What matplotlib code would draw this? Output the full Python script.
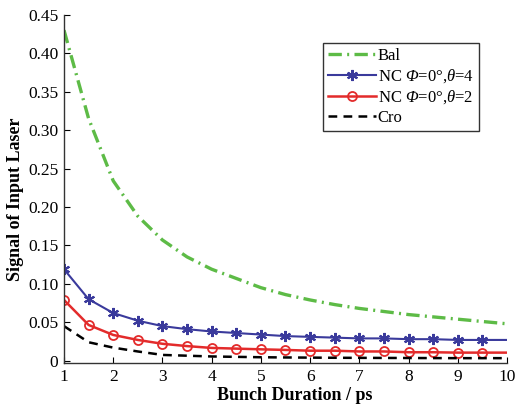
import matplotlib
matplotlib.use("Agg")
import matplotlib.pyplot as plt

plt.rcParams['font.family'] = ['Liberation Serif', 'DejaVu Serif']
plt.rcParams['mathtext.fontset'] = 'custom'
plt.rcParams['mathtext.rm'] = 'Liberation Serif'
plt.rcParams['mathtext.it'] = 'Liberation Serif:italic'
plt.rcParams['mathtext.cal'] = 'Liberation Serif:italic'

x = [1, 1.5, 2, 2.5, 3, 3.5, 4, 4.5, 5, 5.5, 6, 6.5, 7, 7.5, 8, 8.5, 9, 9.5, 10]
bal = [0.430, 0.315, 0.234, 0.188, 0.157, 0.135, 0.119, 0.107, 0.095, 0.086,
       0.079, 0.073, 0.068, 0.064, 0.060, 0.057, 0.054, 0.051, 0.048]
nc4 = [0.119, 0.080, 0.062, 0.052, 0.045, 0.041, 0.038, 0.036, 0.034, 0.032,
       0.031, 0.030, 0.029, 0.029, 0.028, 0.028, 0.027, 0.027, 0.027]
nc2 = [0.079, 0.0465, 0.0335, 0.027, 0.022, 0.019, 0.0166, 0.0157, 0.0148, 0.014,
       0.013, 0.013, 0.012, 0.012, 0.011, 0.011, 0.0105, 0.0105, 0.0105]
cro = [0.045, 0.024, 0.017, 0.012, 0.0075, 0.0065, 0.0055, 0.005, 0.0045, 0.0042,
       0.004, 0.0038, 0.0037, 0.0036, 0.0035, 0.0034, 0.0033, 0.0033, 0.0033]

labels = ['Bal', r'NC $\mathcal{Φ}$=0°,$\mathit{θ}$=4',
          r'NC $\mathcal{Φ}$=0°,$\mathit{θ}$=2', 'Cro']
yticks = [0, 0.05, 0.10, 0.15, 0.20, 0.25, 0.30, 0.35, 0.40, 0.45]
ytick_labels = ['0', '0.05', '0.10', '0.15', '0.20', '0.25', '0.30', '0.35', '0.40', '0.45']
xticks = [1, 2, 3, 4, 5, 6, 7, 8, 9, 10]

fig = plt.figure(figsize=(5.18, 4.07), dpi=100)
ax = fig.add_axes([64/518, 1-363/407, (507-64)/518, (363-14.8)/407])

ax.plot(x, bal, color='#5dbb46', lw=2.4, linestyle=(0, (4, 1.6, 0.6, 1.6)), label=labels[0])
ax.plot(x, nc4, color='#3a3a9c', lw=1.5, marker=(6, 2, 0), markersize=8, mew=1.5,
        markevery=list(range(len(x)-1)), label=labels[1])
ax.plot(x, nc2, color='#e32b2b', lw=1.8, marker='o', markersize=6.5, mfc='none', mew=1.3,
        markevery=list(range(len(x)-1)), label=labels[2])
ax.plot(x, cro, color='black', lw=1.8, linestyle=(0, (3.5, 2.5)), label=labels[3])

ax.set_xlim(1, 10)
ax.set_ylim(-0.003, 0.45)
ax.set_xticks(xticks)
ax.set_xticklabels([str(t) for t in xticks])
ax.set_yticks(yticks)
ax.set_yticklabels(ytick_labels)
ax.tick_params(direction='in', length=4, width=0.8, labelsize=12.5, pad=4)
for s in ['top', 'right']:
    ax.spines[s].set_visible(False)
for s in ['left', 'bottom']:
    ax.spines[s].set_linewidth(1.0)
    ax.spines[s].set_color('#333333')

ax.set_xlabel('Bunch Duration / ps', fontsize=13, fontweight='bold')
ax.set_ylabel('Signal of Input Laser', fontsize=13, fontweight='bold')
ax.xaxis.set_label_coords(0.521, -0.07)
ax.yaxis.set_label_coords(-0.09, 0.471)

leg = ax.legend(loc='upper left', bbox_to_anchor=(322.7/518, 1-43.3/407),
                bbox_transform=fig.transFigure, fontsize=12, frameon=True,
                fancybox=False, edgecolor='black', borderaxespad=0,
                handlelength=2.9, handletextpad=0.1, labelspacing=0.2,
                borderpad=0.3)
leg.get_frame().set_linewidth(1.0)

fig.savefig('out.png', dpi=100)
